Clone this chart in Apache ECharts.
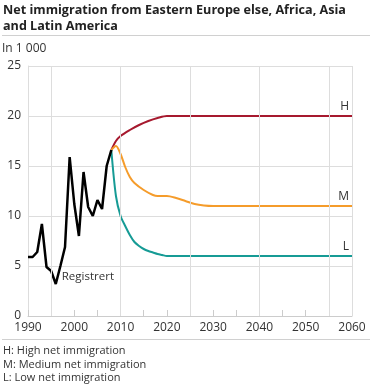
<!DOCTYPE html>
<html><head><meta charset="utf-8">
<script src="https://cdn.jsdelivr.net/npm/echarts@6/dist/echarts.min.js"></script>
<style>html,body{margin:0;padding:0;background:#fff}#c{width:371px;height:384px}</style>
</head><body><div id="c"></div>
<script>
const registeredYears = [1990,1991,1992,1993,1994,1995,1996,1997,1998,1999,2000,2001,2002,2003,2004,2005,2006,2007,2008];
const registeredValues = [5.9,5.9,6.4,9.2,4.9,4.5,3.2,5.0,6.9,15.9,11.2,8.0,14.4,10.9,10.0,11.6,10.7,15.0,16.6];
const highYears = [2008,2009,2010,2012,2014,2016,2018,2020,2060];
const highValues = [16.6,17.5,18.0,18.6,19.1,19.5,19.8,20.0,20.0];
const mediumYears = [2008,2009,2010,2011,2012,2013,2015,2017,2018,2020,2022,2024,2026,2028,2030,2060];
const mediumValues = [16.6,17.0,16.2,14.9,13.9,13.3,12.6,12.1,12.0,12.0,11.8,11.5,11.2,11.05,11.0,11.0];
const lowYears = [2008,2009,2010,2011,2012,2013,2014,2015,2016,2017,2018,2019,2020,2060];
const lowValues = [16.6,12.0,10.0,9.0,8.1,7.4,7.0,6.7,6.5,6.35,6.2,6.1,6.0,6.0];
const verticalGridYears = [1995,2010,2025,2040,2055];
const xLabelYears = [1990,2000,2010,2020,2030,2040,2050,2060];
const titleText = 'Net immigration from Eastern Europe else, Africa, Asia\nand Latin America';
const unitText = 'In 1 000';
const registeredLabel = 'Registrert';
const footnotes = ['H: High net immigration','M: Medium net immigration','L: Low net immigration'];

const FONT = '"Open Sans", sans-serif';
const pairs = (xs, ys) => xs.map((x, i) => [x, ys[i]]);
const chart = echarts.init(document.getElementById('c'), null, {renderer: 'canvas'});

function projSeries(name, xs, ys, color) {
  const last = xs.length - 1;
  return {
    type: 'line', name, data: pairs(xs, ys), showSymbol: false, symbol: 'none', smooth: 0.3,
    lineStyle: {color, width: 2}, z: 3, emphasis: {disabled: true},
    markPoint: {
      symbol: 'circle', symbolSize: 0, silent: true, animation: false,
      label: {show: true, formatter: name, position: 'top', align: 'right', distance: 3, offset: [-3, 0],
        color: '#333', fontSize: 12, fontFamily: FONT},
      data: [{coord: [xs[last], ys[last]]}]
    }
  };
}

chart.setOption({
  animation: false,
  backgroundColor: '#fff',
  textStyle: {fontFamily: FONT},
  grid: {left: 28, right: 19, top: 66, bottom: 68, containLabel: false},
  xAxis: {
    type: 'value', min: 1990, max: 2060, interval: 5,
    axisLine: {show: true, lineStyle: {color: '#cccccc', width: 1}},
    axisTick: {show: true, inside: true, length: 6, lineStyle: {color: '#cccccc'}},
    axisLabel: {color: '#333', fontSize: 12, margin: 6, fontFamily: FONT,
      formatter: v => xLabelYears.includes(v) ? String(v) : ''},
    splitLine: {show: false}
  },
  yAxis: {
    type: 'value', min: 0, max: 25, interval: 5,
    axisLine: {show: true, lineStyle: {color: '#dddddd'}},
    axisTick: {show: false},
    axisLabel: {color: '#333', fontSize: 12, margin: 7, fontFamily: FONT},
    splitLine: {show: true, lineStyle: {color: '#dddddd', width: 1}}
  },
  series: [
    {
      type: 'line', data: [], z: 0, silent: true,
      markLine: {silent: true, symbol: 'none', animation: false, label: {show: false},
        lineStyle: {color: '#dddddd', type: 'solid', width: 1},
        data: verticalGridYears.concat([2060]).map(y => ({xAxis: y}))}
    },
    projSeries('H', highYears, highValues, '#a6192e'),
    projSeries('M', mediumYears, mediumValues, '#f59c2b'),
    projSeries('L', lowYears, lowValues, '#169b95'),
    {
      type: 'line', name: 'Registrert', data: pairs(registeredYears, registeredValues), showSymbol: false, symbol: 'none',
      lineStyle: {color: '#000', width: 2.5}, z: 4, emphasis: {disabled: true},
      markPoint: {
        symbol: 'circle', symbolSize: 0, silent: true, animation: false,
        label: {show: true, formatter: registeredLabel, position: 'right', distance: 6, offset: [0, -7],
          color: '#333', fontSize: 11.5, fontFamily: FONT},
        data: [{coord: [1996, 3.2]}]
      }
    }
  ],
  graphic: [
    {type: 'text', left: 3, top: 2, style: {text: titleText, font: 'bold 12.6px ' + FONT, fill: '#222', lineHeight: 16}},
    {type: 'line', shape: {x1: 2, y1: 35.5, x2: 370, y2: 35.5}, style: {stroke: '#d0d0d0', lineWidth: 1}},
    {type: 'text', left: 2, top: 43, style: {text: unitText, font: '12px ' + FONT, fill: '#333'}},
    {type: 'line', shape: {x1: 2, y1: 339.5, x2: 370, y2: 339.5}, style: {stroke: '#d0d0d0', lineWidth: 1}},
    {type: 'text', left: 3, top: 344.5, style: {text: footnotes.join('\n'), font: '11px ' + FONT, fill: '#333', lineHeight: 13.5}}
  ]
});
</script></body></html>
